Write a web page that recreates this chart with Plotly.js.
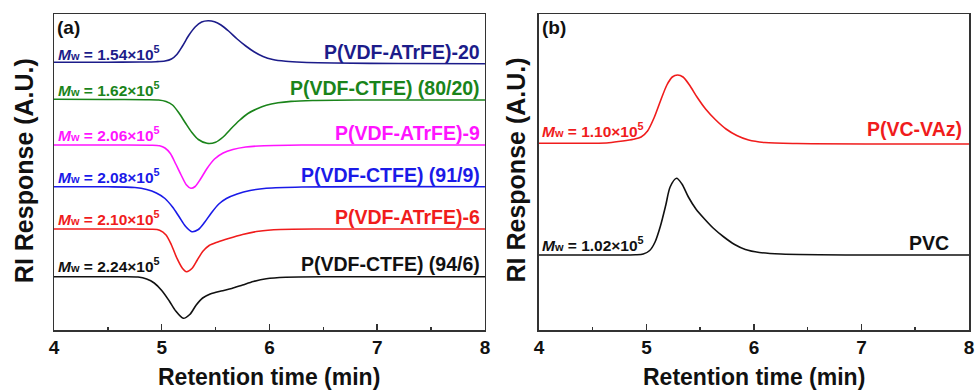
<!DOCTYPE html>
<html>
<head>
<meta charset="utf-8">
<script src="https://cdn.plot.ly/plotly-3.0.1.min.js"></script>
<style>html,body{margin:0;padding:0;background:#fff;}#chart{width:975px;height:390px;}</style>
</head>
<body>
<div id="chart"></div>
<script>
// ---- Panel (a) data: retention time (min) and RI response (A.U., stacked offsets) ----
const atrfe20_x = [4.0, 4.5, 4.8, 4.95, 5.03, 5.09, 5.14, 5.19, 5.25, 5.31, 5.37, 5.43, 5.49, 5.55, 5.62, 5.7, 5.78, 5.86, 5.94, 6.03, 6.15, 6.3, 6.6, 7.2, 8.0];
const atrfe20_y = [267.7, 267.8, 268, 268.3, 269, 271, 275.5, 283.5, 294.5, 303, 308, 309.3, 308.3, 305, 299, 291, 284, 278, 273.5, 270.5, 268.7, 267.7, 267, 266.5, 266.3];

const ctfe8020_x = [4.0, 4.5, 4.85, 4.97, 5.04, 5.1, 5.16, 5.22, 5.28, 5.34, 5.42, 5.5, 5.57, 5.64, 5.72, 5.8, 5.88, 5.97, 6.08, 6.2, 6.4, 6.8, 8.0];
const ctfe8020_y = [230.7, 230.5, 230.3, 230, 228.5, 225, 217, 207, 197.5, 190.5, 186.7, 187.8, 193, 201, 209.5, 216.5, 221, 224.8, 227.2, 228.6, 229.5, 230, 230];

const atrfe9_x = [4.0, 4.6, 4.9, 4.98, 5.03, 5.08, 5.13, 5.18, 5.23, 5.27, 5.31, 5.36, 5.42, 5.49, 5.57, 5.66, 5.78, 5.95, 6.3, 8.0];
const atrfe9_y = [185, 185, 184.8, 184.2, 182, 176.5, 166, 155, 145, 141.7, 143.5, 151, 161.5, 171, 177, 180.5, 183, 184.3, 185, 185];

const ctfe919_x = [4.0, 4.5, 4.75, 4.86, 4.95, 5.03, 5.1, 5.16, 5.22, 5.28, 5.34, 5.4, 5.46, 5.53, 5.6, 5.7, 5.82, 5.97, 6.3, 8.0];
const ctfe919_y = [143.3, 143.2, 142.5, 140.5, 137, 131.5, 123, 113.5, 103.8, 98.3, 100.5, 108, 117, 126, 131.5, 136, 139.5, 141.7, 143, 143.3];

const atrfe6_x = [4.0, 4.6, 4.9, 4.98, 5.04, 5.09, 5.14, 5.19, 5.23, 5.28, 5.33, 5.38, 5.44, 5.52, 5.62, 5.75, 5.9, 6.1, 6.5, 8.0];
const atrfe6_y = [101, 101, 100.8, 99.8, 95, 85, 72, 62, 58.3, 61.5, 70, 78.5, 84.5, 88, 91.5, 95.5, 98.8, 100.5, 101, 101];

const ctfe946_x = [4.0, 4.6, 4.78, 4.86, 4.93, 5.0, 5.07, 5.13, 5.2, 5.26, 5.32, 5.38, 5.45, 5.55, 5.65, 5.75, 5.85, 5.97, 6.15, 6.6, 8.0];
const ctfe946_y = [53.3, 53.3, 53, 51, 47, 39.5, 29, 19, 11.7, 15.5, 25, 32, 36, 39, 41.5, 45, 48.5, 51.3, 52.8, 53.3, 53.3];

// ---- Panel (b) data ----
const vcvaz_x = [4.0, 4.5, 4.65, 4.78, 4.88, 4.95, 5.01, 5.07, 5.13, 5.19, 5.24, 5.29, 5.34, 5.4, 5.47, 5.55, 5.64, 5.74, 5.84, 5.95, 6.1, 6.4, 8.0];
const vcvaz_y = [186.7, 186.8, 187.3, 189, 190.8, 193, 199, 212, 229, 245, 253, 255, 253, 245, 233, 221, 210.5, 201, 194.5, 190, 187.5, 186.5, 186];

const pvc_x = [4.0, 4.7, 4.9, 4.97, 5.03, 5.08, 5.13, 5.18, 5.22, 5.28, 5.33, 5.39, 5.46, 5.54, 5.62, 5.72, 5.82, 5.92, 6.05, 6.25, 7.0, 8.0];
const pvc_y = [75, 75, 75.2, 76, 79.5, 88, 104, 125, 143, 151.7, 146, 133, 121, 111, 102, 93, 85.5, 80.5, 77.5, 76, 75, 75];

// ---- Labels ----
const namesA = ["P(VDF-ATrFE)-20", "P(VDF-CTFE) (80/20)", "P(VDF-ATrFE)-9", "P(VDF-CTFE) (91/9)", "P(VDF-ATrFE)-6", "P(VDF-CTFE) (94/6)"];
const mwA = ["1.54", "1.62", "2.06", "2.08", "2.10", "2.24"];
const namesB = ["P(VC-VAz)", "PVC"];
const mwB = ["1.10", "1.02"];
const xTicks = [4, 5, 6, 7, 8];

const colorsA = ["#1c1c8a", "#1a841a", "#ff14ff", "#1a1ae8", "#f01c1c", "#111111"];
const colorsB = ["#f01c1c", "#111111"];

const seriesA = [[atrfe20_x, atrfe20_y], [ctfe8020_x, ctfe8020_y], [atrfe9_x, atrfe9_y], [ctfe919_x, ctfe919_y], [atrfe6_x, atrfe6_y], [ctfe946_x, ctfe946_y]];
const seriesB = [[vcvaz_x, vcvaz_y], [pvc_x, pvc_y]];

const traces = [];
seriesA.forEach((s, i) => traces.push({x: s[0], y: s[1], type: 'scatter', mode: 'lines', xaxis: 'x', yaxis: 'y',
  line: {color: colorsA[i], width: 1.6, shape: 'spline', smoothing: 0.8}, name: namesA[i], hoverinfo: 'skip'}));
seriesB.forEach((s, i) => traces.push({x: s[0], y: s[1], type: 'scatter', mode: 'lines', xaxis: 'x2', yaxis: 'y2',
  line: {color: colorsB[i], width: 1.6, shape: 'spline', smoothing: 0.8}, name: namesB[i], hoverinfo: 'skip'}));

const FAM = 'Arial, "Liberation Sans", sans-serif';
// label positions (A.U. units above the axis)
const labelYA = [265, 229, 184, 142, 100, 53];
const labelYB = [188, 74];

function mwText(v) {
  return '<b><i>M</i><span style="font-size:11px">w</span> = ' + v + '×10<sup>5</sup></b>';
}

const ann = [];
namesA.forEach((n, i) => {
  ann.push({xref: 'x domain', yref: 'y', x: 0.992, y: labelYA[i], xanchor: 'right', yanchor: 'bottom',
    text: '<b>' + n + '</b>', showarrow: false, font: {family: FAM, size: 19.5, color: colorsA[i]}});
  ann.push({xref: 'x domain', yref: 'y', x: 0.005, y: labelYA[i] + 0.5, xanchor: 'left', yanchor: 'bottom',
    text: mwText(mwA[i]), showarrow: false, font: {family: FAM, size: 15.5, color: colorsA[i]}});
});
namesB.forEach((n, i) => {
  ann.push({xref: 'x2 domain', yref: 'y2', x: 0.988 - (i === 1 ? 0.03 : 0), y: labelYB[i], xanchor: 'right', yanchor: 'bottom',
    text: '<b>' + n + '</b>', showarrow: false, font: {family: FAM, size: 19.5, color: colorsB[i]}});
  ann.push({xref: 'x2 domain', yref: 'y2', x: 0.002, y: labelYB[i] + 0.5, xanchor: 'left', yanchor: 'bottom',
    text: mwText(mwB[i]), showarrow: false, font: {family: FAM, size: 15.5, color: colorsB[i]}});
});
ann.push({xref: 'x domain', yref: 'y domain', x: 0.0, y: 1.0, xanchor: 'left', yanchor: 'top', xshift: 1, yshift: -1,
  text: '<b>(a)</b>', showarrow: false, font: {family: FAM, size: 19, color: '#111'}});
ann.push({xref: 'x2 domain', yref: 'y2 domain', x: 0.0, y: 1.0, xanchor: 'left', yanchor: 'top', xshift: 1, yshift: -1,
  text: '<b>(b)</b>', showarrow: false, font: {family: FAM, size: 19, color: '#111'}});
// axis titles
ann.push({xref: 'paper', yref: 'paper', x: -0.032, y: 0.505, xanchor: 'center', yanchor: 'middle', textangle: -90,
  text: '<b>RI Response (A.U.)</b>', showarrow: false, font: {family: FAM, size: 25, color: '#111'}});
ann.push({xref: 'paper', yref: 'paper', x: 0.505, y: 0.505, xanchor: 'center', yanchor: 'middle', textangle: -90,
  text: '<b>RI Response (A.U.)</b>', showarrow: false, font: {family: FAM, size: 25, color: '#111'}});
ann.push({xref: 'x domain', yref: 'paper', x: 0.5, y: -0.15, xanchor: 'center', yanchor: 'middle',
  text: '<b>Retention time (min)</b>', showarrow: false, font: {family: FAM, size: 23, color: '#111'}});
ann.push({xref: 'x2 domain', yref: 'paper', x: 0.5, y: -0.15, xanchor: 'center', yanchor: 'middle',
  text: '<b>Retention time (min)</b>', showarrow: false, font: {family: FAM, size: 23, color: '#111'}});

function xax(domain, anchor) {
  return {domain: domain, anchor: anchor, range: [4, 8], tickvals: xTicks, ticktext: xTicks.map(v => '<b>' + v + '</b>'),
    ticks: 'inside', ticklen: 6, tickwidth: 1.5, tickcolor: '#333',
    minor: {dtick: 0.5, tick0: 4, ticks: 'inside', ticklen: 3, tickwidth: 1.5, tickcolor: '#333'},
    showline: true, mirror: true, linecolor: '#333', linewidth: 1.5, showgrid: false, zeroline: false,
    tickfont: {family: FAM, size: 19, color: '#111'}};
}
function yax(anchor) {
  return {anchor: anchor, range: [0, 316], showticklabels: false, ticks: '', showline: true, mirror: true,
    linecolor: '#333', linewidth: 1.5, showgrid: false, zeroline: false};
}

const layout = {
  width: 975, height: 390,
  margin: {l: 54, r: 6, t: 14, b: 60},
  paper_bgcolor: '#fff', plot_bgcolor: '#fff',
  showlegend: false,
  xaxis: xax([0, 0.471], 'y'),
  yaxis: yax('x'),
  xaxis2: xax([0.530, 1], 'y2'),
  yaxis2: yax('x2'),
  annotations: ann
};

Plotly.newPlot('chart', traces, layout, {staticPlot: true, displayModeBar: false});
</script>
</body>
</html>
